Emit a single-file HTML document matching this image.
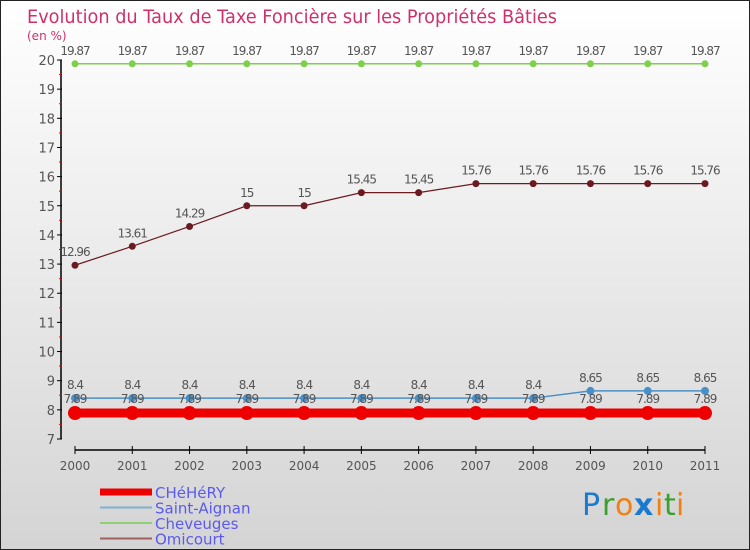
<!DOCTYPE html>
<html><head><meta charset="utf-8"><style>
body{margin:0}
svg{display:block;font-family:"DejaVu Sans","Liberation Sans",sans-serif}
</style></head><body>
<svg id="c" width="750" height="550" viewBox="0 0 750 550">
<defs><linearGradient id="bg" x1="0" y1="0" x2="0" y2="1"><stop offset="0" stop-color="#ffffff"/><stop offset="1" stop-color="#d4d4d4"/></linearGradient></defs>
<rect x="0.5" y="0.5" width="749" height="549" fill="url(#bg)" stroke="#222"/>
<text x="27" y="23" font-size="19" textLength="530" lengthAdjust="spacingAndGlyphs" fill="#d0306a">Evolution du Taux de Taxe Foncière sur les Propriétés Bâties</text>
<text x="27" y="40" font-size="12" fill="#d0306a">(en %)</text>
<g id="axes"></g><g id="series"></g><g id="legend"></g>
<g font-size="30" font-family="'DejaVu Sans',sans-serif">
<text x="582" y="515" fill="#1a7ad0">P</text><text x="602" y="515" fill="#3aa030">r</text><text x="615" y="515" fill="#f08010">o</text><text x="634" y="515" fill="#1a7ad0" font-weight="bold">x</text><text x="655" y="515" fill="#f08010">i</text><text x="664" y="515" fill="#3aa030">t</text><text x="676" y="515" fill="#f08010">i</text>
</g>
</svg>
<script>
const years=[2000,2001,2002,2003,2004,2005,2006,2007,2008,2009,2010,2011];
const yTicks=[7,8,9,10,11,12,13,14,15,16,17,18,19,20];
const cheheryVals=[7.89,7.89,7.89,7.89,7.89,7.89,7.89,7.89,7.89,7.89,7.89,7.89];
const saintAignanVals=[8.4,8.4,8.4,8.4,8.4,8.4,8.4,8.4,8.4,8.65,8.65,8.65];
const cheveugesVals=[19.87,19.87,19.87,19.87,19.87,19.87,19.87,19.87,19.87,19.87,19.87,19.87];
const omicourtVals=[12.96,13.61,14.29,15,15,15.45,15.45,15.76,15.76,15.76,15.76,15.76];
const seriesNames=["CHéHéRY","Saint-Aignan","Cheveuges","Omicourt"];
const NS="http://www.w3.org/2000/svg";
const X=i=>75+i*(630/(years.length-1));
const Y=v=>60+(20-v)*(379/13);
function mk(t,a,p){const e=document.createElementNS(NS,t);for(const k in a)e.setAttribute(k,a[k]);p.appendChild(e);return e;}
const ax=document.getElementById('axes');
let e=mk('line',{x1:61,y1:Y(20),x2:61,y2:Y(7),stroke:'#000','stroke-width':1.5},ax);

yTicks.forEach(v=>{mk('line',{x1:57,x2:62,y1:Y(v),y2:Y(v),stroke:'#000'},ax);
 if(v<20)mk('line',{x1:59,x2:62,y1:Y(v+0.5),y2:Y(v+0.5),stroke:'#e00'},ax);
 const t=mk('text',{x:55,y:Y(v)+5,'text-anchor':'end','font-size':13,fill:'#555'},ax);t.textContent=v;
 });
e=mk('line',{x1:75,y1:450,x2:705,y2:450,stroke:'#000','stroke-width':1.5},ax);

years.forEach((y,i)=>{mk('line',{x1:X(i),x2:X(i),y1:446,y2:454,stroke:'#000'},ax);
 const t=mk('text',{x:X(i),y:470,'text-anchor':'middle','font-size':12,fill:'#555'},ax);t.textContent=y;
 });
const sg=document.getElementById('series');
function draw(vals,color,w,r,name,lblDy){
 const g=mk('g',{},sg);
 mk('polyline',{points:vals.map((v,i)=>X(i)+','+Y(v)).join(' '),fill:'none',stroke:color,'stroke-width':w},g);
 vals.forEach((v,i)=>{const c=mk('circle',{cx:X(i),cy:Y(v),r:r,fill:color},g);
  
  const t=mk('text',{x:X(i),y:Y(v)+lblDy,'text-anchor':'middle','font-size':12,fill:'#555','letter-spacing':'-1'},g);t.textContent=v;});
}
draw(omicourtVals,'#6b1a22',1.2,3.5,'series-omicourt',-9);
draw(cheveugesVals,'#7ed04a',1.5,3.5,'series-cheveuges',-9);
draw(saintAignanVals,'#4a90c8',1.5,4,'series-saint-aignan',-9);
draw(cheheryVals,'#ee0000',9,7,'series-chehery',-10);
const lg=document.getElementById('legend');
const lc=['#ee0000','#7fb0d0','#90d070','#a06060'],lw=[7,2,2,2];
seriesNames.forEach((n,i)=>{const g=mk('g',{},lg);
 const yy=492+i*15.5;
 mk('line',{x1:100,x2:152,y1:yy,y2:yy,stroke:lc[i],'stroke-width':lw[i]},g);
 const t=mk('text',{x:155,y:yy+6,'font-size':15,fill:'#5a5af0'},g);t.textContent=n;});
</script>
</body></html>
